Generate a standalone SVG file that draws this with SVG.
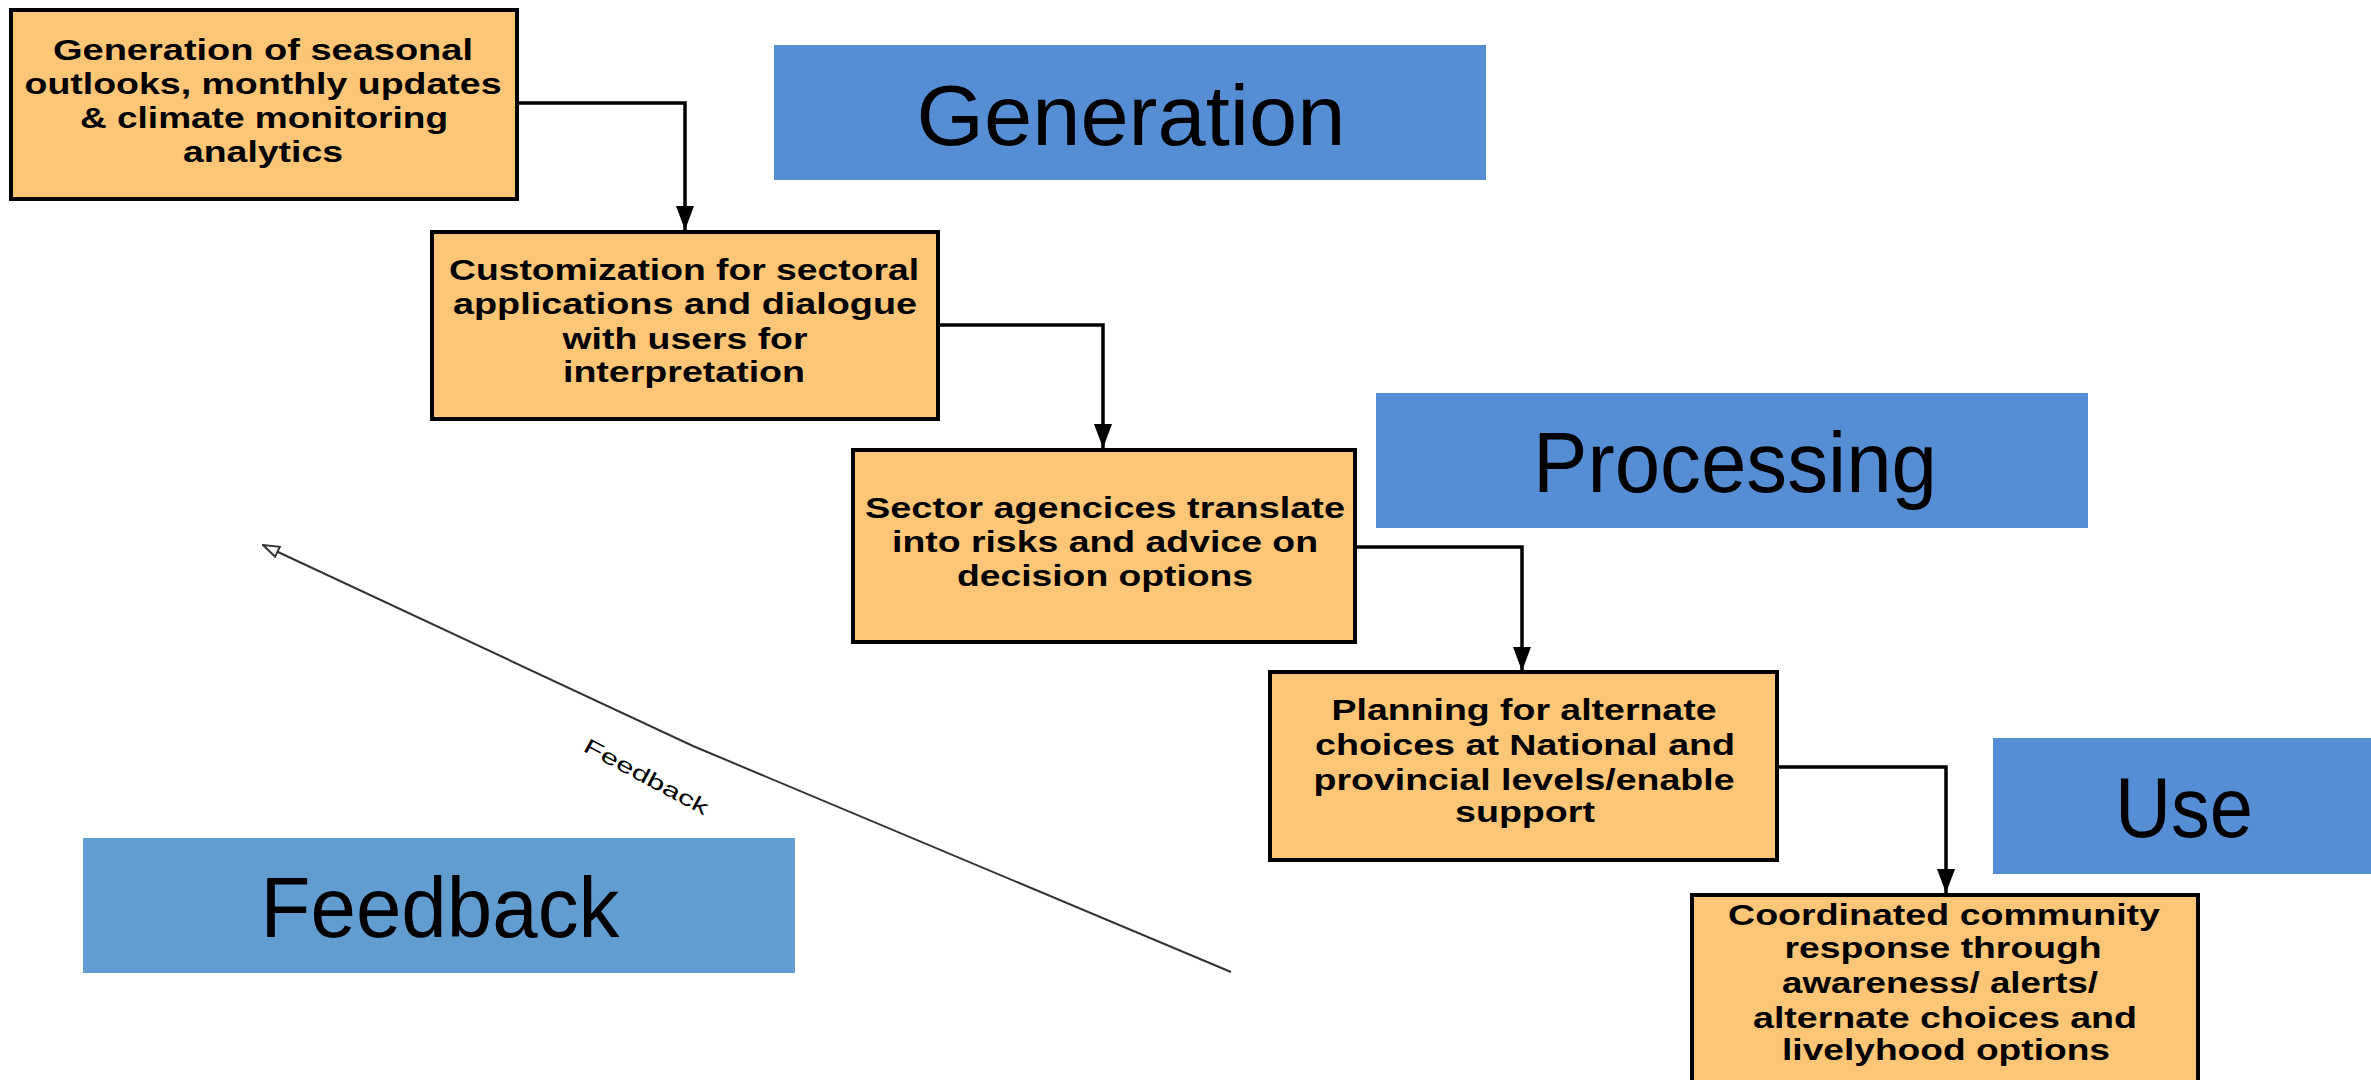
<svg xmlns="http://www.w3.org/2000/svg" width="2371" height="1080" viewBox="0 0 2371 1080">
  <style>
    .box { fill: #FDC576; stroke: #000; stroke-width: 4; }
    .bt { font-family: "Liberation Sans", Arial, sans-serif; font-weight: bold; font-size: 29px; fill: #000; text-anchor: middle; }
    .stage { fill: #558ED5; }
    .st { font-family: "Liberation Sans", Arial, sans-serif; font-size: 86px; fill: #000; text-anchor: middle; }
    .conn { fill: none; stroke: #000; stroke-width: 3.5; }
    .fb { fill: none; stroke: #333; stroke-width: 2; }
  </style>
  <defs>
    <marker id="ah" markerUnits="userSpaceOnUse" markerWidth="24" markerHeight="18" viewBox="0 0 24 18" refX="24" refY="9" orient="auto">
      <path d="M0,0 L24,9 L0,18 Z" fill="#000"/>
    </marker>
    <marker id="oh" markerUnits="userSpaceOnUse" markerWidth="18" markerHeight="14" viewBox="0 0 18 14" refX="17" refY="7" orient="auto">
      <path d="M1,1.5 L17,7 L1,12.5 Z" fill="#fff" stroke="#333" stroke-width="2"/>
    </marker>
  </defs>
  <rect width="2371" height="1080" fill="#fff"/>

  <g id="connectors">
    <path class="conn" d="M517,103 H685 V230" marker-end="url(#ah)"/>
    <path class="conn" d="M938,325 H1103 V448" marker-end="url(#ah)"/>
    <path class="conn" d="M1355,547 H1522 V671" marker-end="url(#ah)"/>
    <path class="conn" d="M1777,767 H1946 V893" marker-end="url(#ah)"/>
    <path class="fb" d="M1231,972 L693,746 L263,545" marker-end="url(#oh)"/>
    <text font-family="'Liberation Sans', Arial, sans-serif" font-size="21" fill="#000" text-anchor="middle" transform="translate(643,783) rotate(28)" textLength="138" lengthAdjust="spacingAndGlyphs">Feedback</text>
  </g>

  <g id="stage-generation">
    <rect class="stage" x="774" y="45" width="712" height="135"/>
    <text class="st" x="1131" y="145" textLength="429" lengthAdjust="spacingAndGlyphs">Generation</text>
  </g>
  <g id="stage-processing">
    <rect class="stage" x="1376" y="393" width="712" height="135"/>
    <text class="st" x="1735" y="492" textLength="404" lengthAdjust="spacingAndGlyphs">Processing</text>
  </g>
  <g id="stage-use">
    <rect class="stage" x="1993" y="738" width="378" height="136"/>
    <text class="st" x="2184" y="837" textLength="138" lengthAdjust="spacingAndGlyphs">Use</text>
  </g>
  <g id="stage-feedback">
    <rect x="83" y="838" width="712" height="135" fill="#619DD1"/>
    <text class="st" x="440" y="937" textLength="359" lengthAdjust="spacingAndGlyphs">Feedback</text>
  </g>

  <g id="node-generation">
    <rect class="box" x="11" y="10" width="506" height="189"/>
    <text class="bt" x="263" y="60" textLength="420" lengthAdjust="spacingAndGlyphs">Generation of seasonal</text>
    <text class="bt" x="263" y="94" textLength="477" lengthAdjust="spacingAndGlyphs">outlooks, monthly updates</text>
    <text class="bt" x="264" y="128" textLength="368" lengthAdjust="spacingAndGlyphs">&amp; climate monitoring</text>
    <text class="bt" x="263" y="162" textLength="160" lengthAdjust="spacingAndGlyphs">analytics</text>
  </g>

  <g id="node-customization">
    <rect class="box" x="432" y="232" width="506" height="187"/>
    <text class="bt" x="684" y="280" textLength="470" lengthAdjust="spacingAndGlyphs">Customization for sectoral</text>
    <text class="bt" x="685" y="314" textLength="464" lengthAdjust="spacingAndGlyphs">applications and dialogue</text>
    <text class="bt" x="685" y="349" textLength="245" lengthAdjust="spacingAndGlyphs">with users for</text>
    <text class="bt" x="684" y="382" textLength="242" lengthAdjust="spacingAndGlyphs">interpretation</text>
  </g>

  <g id="node-sector">
    <rect class="box" x="853" y="450" width="502" height="192"/>
    <text class="bt" x="1105" y="518" textLength="480" lengthAdjust="spacingAndGlyphs">Sector agencices translate</text>
    <text class="bt" x="1105" y="552" textLength="426" lengthAdjust="spacingAndGlyphs">into risks and advice on</text>
    <text class="bt" x="1105" y="586" textLength="296" lengthAdjust="spacingAndGlyphs">decision options</text>
  </g>

  <g id="node-planning">
    <rect class="box" x="1270" y="672" width="507" height="188"/>
    <text class="bt" x="1524" y="720" textLength="385" lengthAdjust="spacingAndGlyphs">Planning for alternate</text>
    <text class="bt" x="1525" y="755" textLength="420" lengthAdjust="spacingAndGlyphs">choices at National and</text>
    <text class="bt" x="1524" y="790" textLength="421" lengthAdjust="spacingAndGlyphs">provincial levels/enable</text>
    <text class="bt" x="1525" y="822" textLength="140" lengthAdjust="spacingAndGlyphs">support</text>
  </g>

  <g id="node-community">
    <rect class="box" x="1692" y="895" width="506" height="210"/>
    <text class="bt" x="1944" y="925" textLength="432" lengthAdjust="spacingAndGlyphs">Coordinated community</text>
    <text class="bt" x="1943" y="958" textLength="317" lengthAdjust="spacingAndGlyphs">response through</text>
    <text class="bt" x="1940" y="993" textLength="316" lengthAdjust="spacingAndGlyphs">awareness/ alerts/</text>
    <text class="bt" x="1945" y="1028" textLength="384" lengthAdjust="spacingAndGlyphs">alternate choices and</text>
    <text class="bt" x="1946" y="1060" textLength="328" lengthAdjust="spacingAndGlyphs">livelyhood options</text>
  </g>
</svg>
